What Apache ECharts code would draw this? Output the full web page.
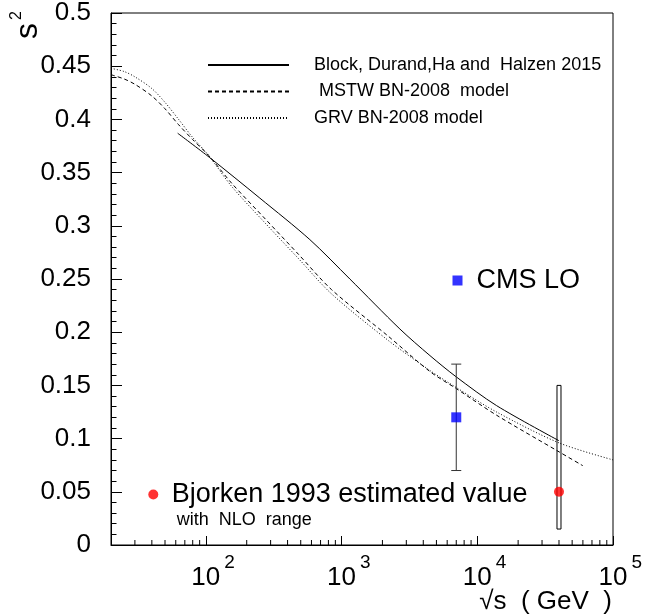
<!DOCTYPE html>
<html><head><meta charset="utf-8">
<script src="https://cdn.jsdelivr.net/npm/echarts@6/dist/echarts.min.js"></script>
<style>html,body{margin:0;padding:0;background:#fff}#c{width:657px;height:615px}</style>
</head><body><div id="c"></div><script>
const FONT = '"Liberation Sans", Arial, Helvetica, sans-serif';

// ---- data (sqrt(s) in GeV, s^2) ----
const blockName = 'Block, Durand,Ha and  Halzen 2015';
const mstwName = ' MSTW BN-2008  model';
const grvName = 'GRV BN-2008 model';
const cmsName = 'CMS LO';
const bjName = 'Bjorken 1993 estimated value';

const blockX = [62, 107, 250, 584, 1151, 2690, 4480, 7000, 13870, 40000];
const blockY = [0.387, 0.364, 0.326, 0.287, 0.250, 0.203, 0.178, 0.158, 0.131, 0.098];

const mstwX = [20, 25, 30, 40, 50, 63, 80, 105, 155, 276, 483, 844, 2220, 4480, 7000, 13870, 40000, 60000];
const mstwY = [0.442, 0.438, 0.433, 0.422, 0.410, 0.395, 0.381, 0.366, 0.340, 0.306, 0.273, 0.240, 0.196, 0.163, 0.147, 0.122, 0.0876, 0.0745];

const grvX = [20, 25, 30, 40, 50, 63, 80, 105, 155, 276, 483, 844, 2220, 4480, 7000, 13870, 40000, 100000];
const grvY = [0.448, 0.445, 0.440, 0.429, 0.416, 0.400, 0.383, 0.366, 0.337, 0.302, 0.269, 0.236, 0.192, 0.164, 0.148, 0.125, 0.096, 0.080];

const cmsX = [7000], cmsY = [0.12], cmsLow = [0.07], cmsHigh = [0.17];
const bjX = [40000], bjY = [0.05], bjLow = [0.015], bjHigh = [0.15];

const xMinorTicks = [30, 40, 50, 60, 70, 80, 90,
  200, 300, 400, 500, 600, 700, 800, 900,
  2000, 3000, 4000, 5000, 6000, 7000, 8000, 9000,
  20000, 30000, 40000, 50000, 60000, 70000, 80000, 90000];
const xDecadeExponents = ['2', '3', '4', '5'];

const pairs = (xs, ys) => xs.map((x, i) => [x, ys[i]]);

const chart = echarts.init(document.getElementById('c'), null, {renderer: 'canvas'});
chart.setOption({
  animation: false,
  backgroundColor: '#fff',
  textStyle: {fontFamily: FONT, color: '#000'},
  grid: {left: 111, right: 44, top: 12, bottom: 68, show: true, borderColor: '#000', borderWidth: 1, backgroundColor: 'transparent'},
  xAxis: {
    type: 'log', logBase: 10, min: 20, max: 100000,
    name: '√s  ( GeV  )', nameLocation: 'end', nameGap: -1, nameMoveOverlap: false,
    nameTextStyle: {fontSize: 26, fontFamily: FONT, color: '#000', align: 'right', verticalAlign: 'top', padding: [44, 0, 0, 0]},
    axisLine: {onZero: false, lineStyle: {color: '#000', width: 1}},
    axisTick: {inside: true, length: 9, lineStyle: {color: '#000'}},
    minorTick: {show: false},
    splitLine: {show: false},
    axisLabel: {
      margin: 8, fontSize: 26, fontFamily: FONT, color: '#000', showMinLabel: true, hideOverlap: false,
      formatter: function (v) {
        const e = Math.round(Math.log10(v));
        if (Math.abs(Math.pow(10, e) - v) > 1e-6 * v) return '';
        const lbl = xDecadeExponents[e - 2];
        return lbl ? '{b|10}{sup|' + lbl + '}' : '';
      },
      rich: {
        b: {fontSize: 26, fontFamily: FONT, color: '#000', verticalAlign: 'bottom', padding: [0, 0, 0, 14.5]},
        sup: {fontSize: 19, fontFamily: FONT, color: '#000', verticalAlign: 'bottom', padding: [0, 0, 19, 4]}
      }
    }
  },
  yAxis: {
    type: 'value', min: 0, max: 0.5, interval: 0.05,
    name: 's{sup|2}', nameLocation: 'end', nameRotate: 90, nameGap: 2, nameMoveOverlap: false,
    nameTextStyle: {fontSize: 32, fontFamily: FONT, color: '#000', align: 'right', verticalAlign: 'bottom', padding: [0, 0, 64, 0],
      rich: {sup: {fontSize: 16, fontFamily: FONT, color: '#000', verticalAlign: 'bottom', padding: [0, 0, 22, 3]}}},
    axisLine: {onZero: false, lineStyle: {color: '#000', width: 1}},
    axisTick: {inside: true, length: 11, lineStyle: {color: '#000'}},
    minorTick: {show: true, splitNumber: 5, length: 5.5, lineStyle: {color: '#000'}},
    splitLine: {show: false},
    axisLabel: {margin: 20, fontSize: 26, fontFamily: FONT, color: '#000', showMinLabel: true, showMaxLabel: true}
  },
  legend: [
    {data: [blockName, mstwName, grvName], orient: 'vertical', left: 207, top: 56, padding: 0,
     itemWidth: 81, itemHeight: 14, itemGap: 8.5, selectedMode: false,
     itemStyle: {opacity: 0},
     textStyle: {fontSize: 18, lineHeight: 18, fontFamily: FONT, color: '#000', padding: [0, 0, 0, 20]}},
    {data: [cmsName], orient: 'vertical', left: 452.5, top: 267, padding: 0,
     itemWidth: 10, itemHeight: 10, selectedMode: false,
     textStyle: {fontSize: 27, lineHeight: 27, fontFamily: FONT, color: '#000', padding: [0, 0, 0, 9]}},
    {data: [bjName], orient: 'vertical', left: 148.3, top: 481, padding: 0,
     itemWidth: 10, itemHeight: 10, selectedMode: false,
     textStyle: {fontSize: 27, lineHeight: 27, fontFamily: FONT, color: '#000', padding: [0, 0, 0, 8.4]}}
  ],
  graphic: [
    {type: 'text', left: 176.7, top: 511.5, silent: true,
     style: {text: 'with  NLO  range', fontSize: 18, fontFamily: FONT, fill: '#000'}}
  ],
  series: [
    {name: blockName, type: 'line', data: pairs(blockX, blockY), symbol: 'none', showSymbol: false,
     smooth: 0.3, lineStyle: {color: '#000', width: 1, type: 'solid'}, itemStyle: {color: '#000'}, z: 2},
    {name: mstwName, type: 'line', data: pairs(mstwX, mstwY), symbol: 'none', showSymbol: false,
     smooth: 0.3, lineStyle: {color: '#000', width: 1, type: [4, 3]}, itemStyle: {color: '#000'}, z: 2},
    {name: grvName, type: 'line', data: pairs(grvX, grvY), symbol: 'none', showSymbol: false,
     smooth: 0.3, lineStyle: {color: '#000', width: 1, type: [1, 2]}, itemStyle: {color: '#000'}, z: 2},
    {name: 'x minor ticks', type: 'custom', silent: true, z: 3,
     data: xMinorTicks.map(v => [v, 0]), encode: {x: 0, y: 1},
     renderItem: function (params, api) {
       const p = api.coord([api.value(0), 0]);
       return {type: 'line', shape: {x1: p[0], y1: p[1], x2: p[0], y2: p[1] - 5}, style: {stroke: '#000', lineWidth: 1}};
     }},
    {name: 'CMS error', type: 'custom', silent: true, z: 4,
     data: cmsX.map((x, i) => [x, cmsLow[i], cmsHigh[i]]), encode: {x: 0, y: [1, 2]},
     renderItem: function (params, api) {
       const hi = api.coord([api.value(0), api.value(2)]);
       const lo = api.coord([api.value(0), api.value(1)]);
       const w = 5;
       const st = {stroke: '#333', lineWidth: 1};
       return {type: 'group', children: [
         {type: 'line', shape: {x1: hi[0], y1: hi[1], x2: lo[0], y2: lo[1]}, style: st},
         {type: 'line', shape: {x1: hi[0] - w, y1: hi[1], x2: hi[0] + w, y2: hi[1]}, style: st},
         {type: 'line', shape: {x1: lo[0] - w, y1: lo[1], x2: lo[0] + w, y2: lo[1]}, style: st}
       ]};
     }},
    {name: 'Bjorken range', type: 'custom', silent: true, z: 4,
     data: bjX.map((x, i) => [x, bjLow[i], bjHigh[i]]), encode: {x: 0, y: [1, 2]},
     renderItem: function (params, api) {
       const hi = api.coord([api.value(0), api.value(2)]);
       const lo = api.coord([api.value(0), api.value(1)]);
       return {type: 'rect', shape: {x: hi[0] - 2, y: hi[1], width: 4, height: lo[1] - hi[1]},
               style: {stroke: '#000', fill: 'none', lineWidth: 1}};
     }},
    {name: cmsName, type: 'scatter', data: pairs(cmsX, cmsY), symbol: 'rect', symbolSize: 10,
     itemStyle: {color: '#0000ff'}, z: 5},
    {name: bjName, type: 'scatter', data: pairs(bjX, bjY), symbol: 'circle', symbolSize: 10,
     itemStyle: {color: '#ff0000'}, z: 5}
  ]
});
</script></body></html>
